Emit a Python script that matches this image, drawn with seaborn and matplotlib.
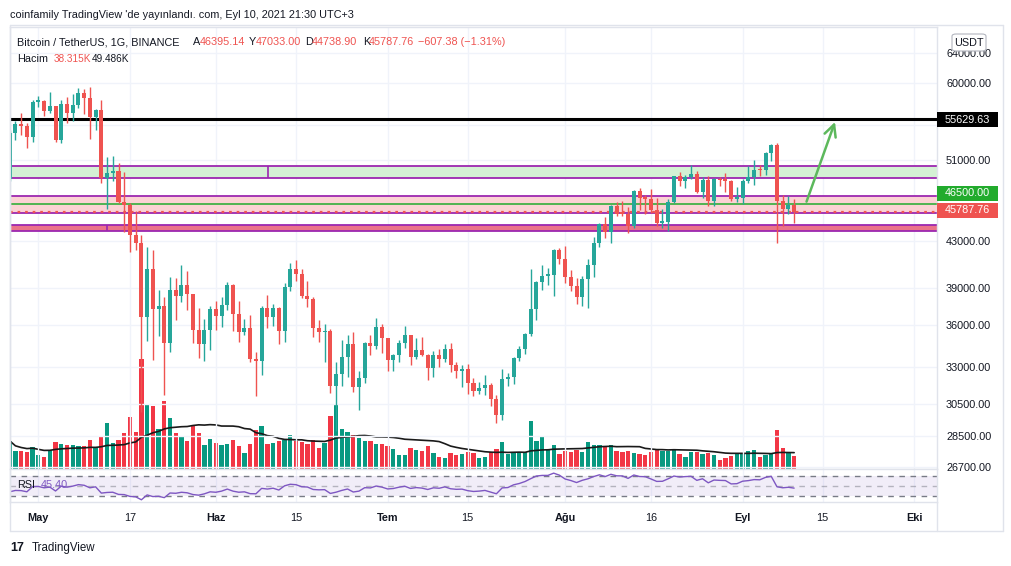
import numpy as np
import pandas as pd
import matplotlib
matplotlib.use("Agg")
import matplotlib.pyplot as plt
import seaborn as sns
from matplotlib.patches import Rectangle, FancyBboxPatch
from matplotlib.lines import Line2D
from matplotlib.ticker import NullLocator

# ---- data: BTC/USDT daily, 26 Apr 2021 .. 10 Sep 2021 ----
opens = [49000, 54000, 55040, 54860, 53560, 57700, 57830, 56580, 57170, 53200,
         57440, 56400, 57360, 58800, 58230, 55860, 56700, 49150, 49700, 49880,
         46760, 46450, 43540, 42850, 36690, 40570, 37300, 37520, 34680, 38800,
         38320, 39240, 38440, 35660, 34600, 35650, 37250, 36700, 37570, 39190,
         36850, 35520, 35800, 33560, 33400, 37390, 36680, 37330, 35550, 39020,
         40520, 40140, 38350, 38100, 35820, 35480, 35600, 31680, 32500, 33680,
         34640, 31640, 32230, 34700, 34490, 35910, 35040, 33500, 33800, 34680,
         35290, 33690, 34220, 33860, 32880, 33800, 33510, 34260, 33090, 32730,
         32820, 31880, 31380, 31520, 31780, 30840, 29790, 32140, 32300, 33600,
         34290, 35390, 37270, 39460, 40000, 40010, 42230, 41460, 39850, 39150,
         38200, 39720, 40870, 42840, 44610, 43820, 46290, 45590, 45550, 44430,
         47830, 47100, 47020, 45940, 44700, 44800, 46720, 49340, 48870, 49290,
         49530, 47700, 48970, 46840, 49070, 48900, 48800, 46990, 47140, 48850,
         49280, 50030, 49940, 51790, 52700, 46860, 46070, 46395.14]
highs = [54400, 55460, 56430, 55200, 58000, 58450, 57900, 58970, 57200, 57950,
         58360, 58650, 59470, 59300, 59500, 56900, 58000, 51370, 51440, 50700,
         49800, 46650, 45800, 43550, 42460, 42200, 38830, 38270, 39920, 39800,
         40900, 40410, 38500, 37340, 36500, 37500, 37900, 38230, 39480, 39290,
         37900, 36480, 36800, 34070, 37540, 38400, 37690, 37440, 39380, 41060,
         41330, 40530, 39560, 38200, 36450, 36140, 35750, 33300, 34880, 35300,
         35500, 32700, 34750, 35300, 36600, 36100, 35040, 33900, 34950, 35950,
         35290, 35060, 35100, 33920, 34100, 34260, 34590, 34680, 33340, 33120,
         33190, 32250, 31950, 32440, 31900, 31060, 32860, 32580, 33650, 34500,
         35400, 40550, 39540, 40900, 40630, 42320, 42420, 42600, 40450, 39780,
         39970, 41420, 43390, 44700, 45310, 46450, 46720, 46790, 46220, 47890,
         48150, 47400, 48050, 47160, 46000, 47050, 49380, 49760, 49500, 50500,
         49870, 49260, 49360, 49190, 49300, 49650, 48900, 48250, 49000, 50400,
         51000, 50560, 51900, 52800, 52920, 47370, 47350, 47033.00]
lows = [48800, 53220, 53810, 52330, 53010, 57050, 56030, 56430, 53050, 52900,
        55200, 55400, 56950, 56235, 53400, 54370, 48600, 46000, 48800, 46650,
        43825, 42000, 42250, 30000, 34860, 33490, 35200, 31110, 34030, 36420,
        37800, 37170, 34700, 33630, 33380, 34150, 35670, 35920, 37170, 35570,
        34800, 35250, 33300, 31000, 32400, 35780, 35930, 34600, 34760, 38730,
        39510, 38120, 37400, 35130, 34800, 33350, 31250, 28800, 31680, 32300,
        31280, 30150, 31900, 33860, 34230, 34000, 32700, 32700, 33300, 34350,
        33130, 33530, 33780, 32100, 32260, 33000, 33320, 32650, 32200, 31600,
        31130, 31020, 31170, 31100, 30400, 29280, 29480, 31700, 31790, 33400,
        33880, 35200, 36400, 38770, 39200, 38310, 41000, 39420, 38690, 37640,
        37510, 37330, 39850, 42450, 43260, 42850, 45350, 45350, 43770, 44250,
        45970, 45530, 45680, 44380, 44200, 43950, 46620, 48300, 48130, 49030,
        47600, 47130, 46320, 46360, 48370, 47760, 46860, 46700, 46510, 48630,
        48400, 49400, 49500, 50970, 42840, 44410, 45510, 44738.90]
closes = [54000, 55040, 54860, 53560, 57700, 57830, 56580, 57170, 53200, 57440,
          56400, 57360, 58800, 58230, 55860, 56700, 49150, 49700, 49880, 46760,
          46450, 43540, 42850, 36690, 40570, 37300, 37520, 34700, 38800, 38320,
          39240, 38440, 35660, 34600, 35650, 37250, 36700, 37570, 39190, 36850,
          35520, 35800, 33560, 33400, 37390, 36680, 37330, 35550, 39020, 40520,
          40140, 38350, 38100, 35820, 35480, 35600, 31680, 32500, 33680, 34640,
          31640, 32230, 34700, 34490, 35910, 35040, 33500, 33800, 34680, 35290,
          33690, 34220, 33860, 32880, 33800, 33510, 34260, 33090, 32730, 32820,
          31880, 31380, 31520, 31780, 30840, 29790, 32140, 32300, 33600, 34290,
          35390, 37270, 39460, 40000, 40010, 42230, 41460, 39850, 39150, 38200,
          39720, 40870, 42840, 44610, 43820, 46290, 45590, 45550, 44430, 47830,
          47100, 47020, 45940, 44700, 44800, 46720, 49340, 48870, 49290, 49530,
          47700, 48970, 46840, 49070, 48900, 48800, 46990, 47140, 48850, 49280,
          50030, 49940, 51790, 52700, 46860, 46070, 46395.14, 45787.76]
# volume in thousand BTC
volumes_k = [83, 53, 53, 50, 65, 41, 35, 56, 80, 74,
             71, 71, 67, 67, 86, 62, 95, 137, 77, 86,
             107, 155, 110, 329, 191, 188, 119, 203, 152, 107,
             98, 83, 128, 107, 71, 89, 77, 71, 74, 86,
             68, 47, 74, 116, 128, 74, 77, 83, 86, 101,
             83, 80, 74, 86, 62, 77, 158, 191, 119, 110,
             101, 92, 83, 83, 74, 74, 68, 59, 41, 41,
             62, 56, 53, 68, 47, 35, 32, 47, 41, 44,
             50, 47, 32, 35, 50, 59, 80, 44, 50, 50,
             50, 143, 83, 95, 56, 71, 44, 53, 50, 56,
             50, 80, 71, 71, 68, 71, 53, 50, 53, 47,
             44, 41, 50, 56, 53, 53, 56, 44, 35, 50,
             50, 44, 47, 41, 26, 32, 38, 47, 47, 53,
             56, 35, 41, 44, 116, 62, 50, 38.315]
# closes of the two weeks before the first visible candle (RSI warm-up)
warmup_closes = [59980, 63580, 62960, 63160, 61330, 60040, 56150, 55660,
                 56470, 53800, 51700, 51190, 50100, 49000]

# values printed in the chart legends
vol_ma_label = "49.486K"
rsi_label = "45.40"

price_ticks = [26700, 28500, 30500, 33000, 36000, 39000, 43000, 47000,
               51000, 55000, 60000, 64000]
hidden_ticks = [47000, 55000]   # covered by the price tags in the reference
date_ticks = ["2021-05-01", "2021-05-17", "2021-06-01", "2021-06-15", "2021-07-01",
              "2021-07-15", "2021-08-01", "2021-08-16", "2021-09-01", "2021-09-15",
              "2021-10-01"]
date_labels = ["May", "17", "Haz", "15", "Tem", "15", "Ağu", "16", "Eyl", "15", "Eki"]

green_zone = (49150, 50400)
pink_zone = (45650, 47300)
red_zone = (43950, 44500)
resistance = 55629.63
level_46500 = 46500.0
last_close = 45787.76

# ---- derived ----
dates = pd.date_range("2021-04-26", periods=len(closes))
df = pd.DataFrame({"date": dates, "open": opens, "high": highs, "low": lows,
                   "close": closes, "volume": volumes_k})
df["i"] = np.arange(len(df))
df["up"] = df["close"] >= df["open"]
df["vol_ma"] = df["volume"].rolling(20, min_periods=1).mean()

allc = np.array(warmup_closes + closes, dtype=float)
d = np.diff(allc)
g = np.clip(d, 0, None)
l = np.clip(-d, 0, None)
ag = g[:14].mean()
al = l[:14].mean()
rsi_all = [100 - 100 / (1 + ag / al)]
for k in range(14, len(d)):
    ag = (ag * 13 + g[k]) / 14
    al = (al * 13 + l[k]) / 14
    rsi_all.append(100 - 100 / (1 + ag / al))
df["rsi"] = rsi_all[-len(closes):]

tick_pos = [(pd.Timestamp(t) - dates[0]).days for t in date_ticks]

UP = "#26a69a"
DN = "#ef5350"
VUP = "#089981"
VDN = "#f23645"
TXT = "#131722"
GRID = "#f0f3fa"
BORDER = "#e0e3eb"
PURPLE = "#9c27b0"

sns.set_theme(style="white")
plt.rcParams["font.family"] = ["Liberation Sans", "DejaVu Sans"]

W, H = 1012, 566
fig = plt.figure(figsize=(W / 100, H / 100), dpi=100)
fig.patch.set_facecolor("white")


def fx(px):
    return px / W


def fy(py):
    return 1 - py / H


L, R = 10, 937
top_main, bot_main = 27, 468.5
bot_rsi = 502
ax = fig.add_axes([fx(L), fy(bot_main), fx(R) - fx(L), (bot_main - top_main) / H])
axr = fig.add_axes([fx(L), fy(bot_rsi), fx(R) - fx(L), (bot_rsi - bot_main) / H])
axv = ax.twinx()

xlim = (0.05, 161.95)

# volume underneath
axv.set_zorder(ax.get_zorder() - 1)
ax.patch.set_visible(False)
axv.bar(df["i"], df["volume"], width=0.75,
        color=[VUP if u else VDN for u in df["up"]], linewidth=0)
sns.lineplot(x=df["i"], y=df["vol_ma"], ax=axv, color="#1a1a1a", lw=1.2)
axv.set_ylim(0, 1324.5)
axv.set_yticks([])
axv.set_ylabel("")
for s in axv.spines.values():
    s.set_visible(False)

# zones and levels
ax.axhspan(*green_zone, color="#d4f1d4", lw=0, zorder=1)
ax.axhspan(*pink_zone, color="#fbd2d4", lw=0, zorder=1)
ax.axhspan(*red_zone, color="#ea7389", lw=0, zorder=1)
for lo, hi in (green_zone, pink_zone, red_zone):
    ax.axhline(lo, color=PURPLE, lw=1.3, zorder=2)
    ax.axhline(hi, color=PURPLE, lw=1.3, zorder=2)
ax.vlines([45.17], *green_zone, color=PURPLE, lw=1.2, zorder=2)
ax.vlines([17.05], *red_zone, color=PURPLE, lw=1.2, zorder=2)
ax.axhline(level_46500, color="#22ab2d", lw=1.1, zorder=2)
ax.axhline(last_close, color=DN, lw=1.6, ls=(0, (1.2, 2.2)), zorder=2)
ax.axhline(resistance, color="black", lw=2.2, zorder=3)

# candles
cols = [UP if u else DN for u in df["up"]]
ax.vlines(df["i"], df["low"], df["high"], colors=cols, lw=1.0, zorder=4)
body_lo = np.minimum(df["open"], df["close"])
body_h = np.maximum(np.abs(df["close"] - df["open"]), body_lo * 0.004)
ax.bar(df["i"], body_h, bottom=body_lo, width=0.7, color=cols, lw=0, zorder=5)

# target arrow
ax.annotate("", xy=(144.3, resistance), xytext=(139, level_46500),
            arrowprops=dict(arrowstyle="->,head_length=0.7,head_width=0.35",
                            color="#5cb85c", lw=1.8), zorder=6)

ax.set_yscale("log")
ax.set_ylim(26620, 67600)
ax.set_xlim(*xlim)
ax.yaxis.tick_right()
ax.yaxis.set_minor_locator(NullLocator())
ax.set_yticks(price_ticks)
ax.set_yticklabels(["" if t in hidden_ticks else f"{t:.2f}" for t in price_ticks])
ax.set_xticks(tick_pos)
ax.tick_params(axis="x", labelbottom=False, length=0)
ax.tick_params(axis="y", length=0, pad=6.5, labelsize=7.8, colors=TXT)
ax.grid(True, color=GRID, lw=1)
ax.set_axisbelow(True)
for s in ax.spines.values():
    s.set_color(BORDER)
    s.set_linewidth(1)

# RSI pane
axr.axhspan(30, 70, color="#7e57c2", alpha=0.1, lw=0)
axr.axhline(70, color="#787b86", lw=1, ls=(0, (4, 4)))
axr.axhline(30, color="#787b86", lw=1, ls=(0, (4, 4)))
axr.axhline(50, color="#787b86", lw=1, ls=(0, (4, 4)), alpha=0.5)
sns.lineplot(x=df["i"], y=df["rsi"], ax=axr, color="#7e57c2", lw=1)
axr.set_ylim(18, 84)
axr.set_xlim(*xlim)
axr.set_yticks([])
axr.set_xlabel("")
axr.set_ylabel("")
axr.set_xticks(tick_pos)
axr.set_xticklabels(date_labels)
axr.tick_params(axis="x", length=0, pad=8, labelsize=7.8, colors=TXT)
for lab in axr.get_xticklabels():
    if not lab.get_text().isdigit():
        lab.set_fontweight("bold")
axr.grid(True, axis="x", color=GRID, lw=1)
axr.set_axisbelow(True)
for s in axr.spines.values():
    s.set_color(BORDER)
    s.set_linewidth(1)
axr.text(0.008, 0.5, "RSI", transform=axr.transAxes, fontsize=7.8, color=TXT, va="center")
axr.text(0.033, 0.5, rsi_label, transform=axr.transAxes,
         fontsize=7.8, color="#7e57c2", va="center")

# frame lines
for yy in (25, 531):
    fig.add_artist(Line2D([fx(L), fx(1003)], [fy(yy), fy(yy)], color=BORDER, lw=1))
for xx in (L, 1003):
    fig.add_artist(Line2D([fx(xx), fx(xx)], [fy(25), fy(531)], color=BORDER, lw=1))
fig.add_artist(Line2D([fx(R), fx(R)], [fy(502), fy(531)], color=BORDER, lw=1))


# price labels on the right scale
def price_tag(py, text, face, fg="white"):
    fig.add_artist(Rectangle((fx(937), fy(py + 7.5)), fx(998) - fx(937), 15 / H,
                             facecolor=face, edgecolor="none", zorder=10))
    fig.text(fx(967.5), fy(py), text, color=fg, fontsize=7.8, ha="center",
             va="center", zorder=11)


price_tag(119.8, f"{resistance:.2f}", "black")
price_tag(193, f"{level_46500:.2f}", "#22ab2d")
price_tag(210, f"{last_close:.2f}", DN)

fig.add_artist(FancyBboxPatch((fx(952), fy(51)), fx(986) - fx(952), 17 / H,
                              boxstyle="round,pad=0,rounding_size=0.004",
                              facecolor="white", edgecolor="#b2b5be", lw=0.8, zorder=10))
fig.text(fx(969), fy(42.5), "USDT", fontsize=7.8, color=TXT, ha="center", va="center", zorder=11)

# header texts
fig.text(fx(10), fy(15), "coinfamily TradingView 'de yayınlandı. com, Eyl 10, 2021 21:30 UTC+3",
         fontsize=7.8, color=TXT, va="center")
y1 = fy(42.3)
fig.text(fx(17), y1, "Bitcoin / TetherUS, 1G, BINANCE", fontsize=7.8, color=TXT, va="center")
for lx, letter, vx, val in ((193, "A", 199.5, opens[-1]), (249, "Y", 255.5, highs[-1]),
                            (305.5, "D", 312, lows[-1]), (363, "K", 369, closes[-1])):
    fig.text(fx(lx), y1, letter, fontsize=7.8, color=TXT, va="center")
    fig.text(fx(vx), y1, f"{val:.2f}", fontsize=7.8, color=DN, va="center")
chg = closes[-1] - closes[-2]
fig.text(fx(418), y1, f"\u2212{abs(chg):.2f} (\u2212{abs(chg) / closes[-2] * 100:.2f}%)",
         fontsize=7.8, color=DN, va="center")
y2 = fy(59)
fig.text(fx(17), y2, "Hacim", fontsize=7.8, color=TXT, va="center")
fig.text(fx(54), y2, f"{volumes_k[-1]:.3f}K", fontsize=7.2, color=DN, va="center")
fig.text(fx(92), y2, vol_ma_label, fontsize=7.2, color=TXT, va="center")

# footer logo
fig.text(fx(10), fy(548), "17", fontsize=9, fontweight="bold", color=TXT, va="center")
fig.text(fx(32), fy(548), "TradingView", fontsize=8.3, color=TXT, va="center")

fig.savefig("out.png", dpi=100)
